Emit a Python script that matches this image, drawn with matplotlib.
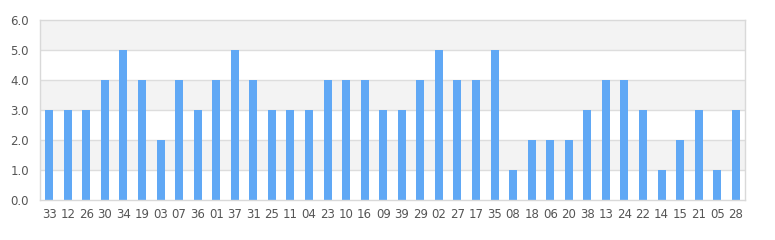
import matplotlib.pyplot as plt
import numpy as np

labels = ['33', '12', '26', '30', '34', '19', '03', '07', '36', '01',
          '37', '31', '25', '11', '04', '23', '10', '16', '09', '39',
          '29', '02', '27', '17', '35', '08', '18', '06', '20', '38',
          '13', '24', '22', '14', '15', '21', '05', '28']
values = [3, 3, 3, 4, 5, 4, 2, 4, 3, 4,
          5, 4, 3, 3, 3, 4, 4, 4, 3, 3,
          4, 5, 4, 4, 5, 1, 2, 2, 2, 3,
          4, 4, 3, 1, 2, 3, 1, 3]
yticks = [0, 1, 2, 3, 4, 5, 6]

fig = plt.figure(figsize=(7.75, 2.4), dpi=100)
ax = fig.add_axes([40 / 775, 40 / 240, 705 / 775, 180 / 240])

# alternating bands
for lo in yticks[:-1]:
    if lo % 2 == 1:
        ax.axhspan(lo, lo + 1, color='#f3f3f3', zorder=0, lw=0)
for y in yticks[1:-1]:
    ax.axhline(y, color='#dddddd', lw=1, zorder=1)

x = np.arange(len(labels))
ax.bar(x, values, width=0.43, color='#60a8f5', zorder=2)

ax.set_xlim(-0.5, len(labels) - 0.5)
ax.set_ylim(0, 6)
ax.set_yticks(yticks)
ax.set_yticklabels(['%.1f' % v for v in yticks])
ax.set_xticks(x)
ax.set_xticklabels(labels)
ax.tick_params(length=0, labelsize=8.5, colors='#555555', pad=6)
ax.tick_params(axis='y', pad=8)
for s in ax.spines.values():
    s.set_color('#d9d9d9')
    s.set_linewidth(1)

fig.savefig('out.png', dpi=100)
